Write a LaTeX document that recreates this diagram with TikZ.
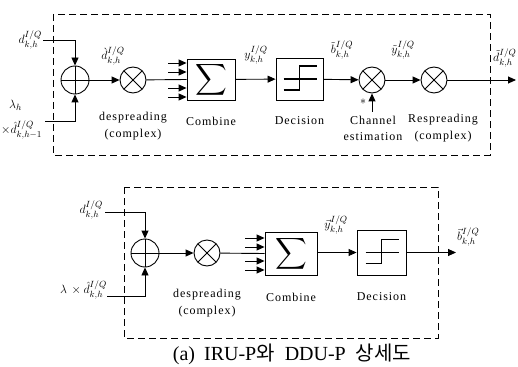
\documentclass[tikz,border=0pt]{standalone}
\usepackage{fontspec}
\setmainfont{Liberation Serif}
\newfontfamily\krfont{Noto Sans CJK KR}
\newfontfamily\lblfont[LetterSpace=8]{Liberation Serif}
\usetikzlibrary{arrows.meta,calc}
\tikzset{
  sig/.style={line width=0.9pt},
  arr/.style={sig,-{Triangle[length=8pt,width=7pt]}},
  dbox/.style={line width=0.9pt, dash pattern=on 7pt off 4pt},
  mulnode/.style={circle, draw, line width=0.9pt, minimum size=26pt, inner sep=0pt,
    path picture={\draw[line width=0.9pt] (path picture bounding box.north west) -- (path picture bounding box.south east)
      (path picture bounding box.north east) -- (path picture bounding box.south west);}},
  addnode/.style={circle, draw, line width=0.9pt, minimum size=28pt, inner sep=0pt,
    path picture={\draw[line width=0.9pt] (path picture bounding box.north) -- (path picture bounding box.south)
      (path picture bounding box.east) -- (path picture bounding box.west);}},
  sumbox/.style={draw, line width=0.9pt, inner sep=0pt},
  decbox/.style={draw, line width=0.9pt, inner sep=0pt,
    path picture={\draw[line width=1.1pt]
      ($(path picture bounding box.center)+(-16pt,0pt)$) -- ++(33pt,0pt)
      ($(path picture bounding box.center)+(-16pt,-11pt)$) -- ++(16pt,0pt) -- ++(0pt,24pt) -- ++(17pt,0pt);}},
  lbl/.style={font=\lblfont\fontsize{12}{13}\selectfont, inner sep=0pt},
  mlbl/.style={font=\fontsize{13}{13}\selectfont, inner sep=0pt},
}
\begin{document}
\begin{tikzpicture}[x=1pt,y=-1pt]
\useasboundingbox (0,0) rectangle (518,366);
% ---------------- top ----------------
\draw[dbox] (53,14) rectangle (490,155);
\node[addnode] (add1) at (75,80) {};
\node[mulnode] (mul1) at (133,80) {};
\node[sumbox, minimum width=48pt, minimum height=41pt] (sum1) at (211,79.5) {\scalebox{2.2}{$\displaystyle\sum$}};
\node[decbox, minimum width=47pt, minimum height=42pt] (dec1) at (299.5,79) {};
\node[mulnode] (mul2) at (372,80) {};
\node[mulnode] (mul3) at (434,80) {};
\coordinate (din1) at (43,40);
\coordinate (lin1) at (45,121);
\coordinate (ch1) at (372,112);
\coordinate (out1) at (516,80);
\draw[arr] (din1) -| (add1.north);
\draw[arr] (lin1) -| (add1.south);
\draw[arr] (add1) -- (mul1);
\draw[sig] (mul1) -- (sum1.west);
\foreach \yy in {63,72,88,97}{
  \draw[arr] (168,\yy) -- (sum1.west |- 0,\yy);
}
\draw[arr] (sum1) -- (dec1);
\draw[arr] (dec1) -- (mul2);
\draw[arr] (ch1) -- (mul2.south);
\draw[arr] (mul2) -- (mul3);
\draw[arr] (mul3) -- (out1);
\node[mlbl, anchor=east] (ld1) at (42,40) {$d^{I/Q}_{k,h}$};
\node[mlbl, anchor=west] (ll1) at (9,105) {$\lambda_h$};
\node[mlbl, anchor=west] (ll2) at (1,130) {$\times\hat{d}^{I/Q}_{k,h-1}$};
\node[mlbl] (lhat) at (113,56) {$\grave{d}^{I/Q}_{k,h}$};
\node[mlbl] (ly1) at (256,55) {$y^{I/Q}_{k,h}$};
\node[mlbl] (lb1) at (342,50) {$\tilde{b}^{I/Q}_{k,h}$};
\node[mlbl] (lyt) at (403,50) {$\tilde{y}^{I/Q}_{k,h}$};
\node[mlbl, anchor=west] (ldt) at (493,58) {$\tilde{d}^{I/Q}_{k,h}$};
\node[mlbl] (star) at (363,102) {$\ast$};
\node[lbl] (t1) at (133,118) {despreading};
\node[lbl] (t2) at (133,135) {(complex)};
\node[lbl] (t3) at (211,121) {Combine};
\node[lbl] (t4) at (299.5,121) {Decision};
\node[lbl] (t5) at (373,120) {Channel};
\node[lbl] (t6) at (373,137) {estimation};
\node[lbl] (t7) at (443,120) {Respreading};
\node[lbl] (t8) at (443,137) {(complex)};
% ---------------- bottom ----------------
\draw[dbox] (124,187) rectangle (438,338);
\node[addnode] (add2) at (145,253) {};
\node[mulnode] (mul4) at (207,253) {};
\node[sumbox, minimum width=52pt, minimum height=43pt] (sum2) at (291,253.5) {\scalebox{2.2}{$\displaystyle\sum$}};
\node[decbox, minimum width=49pt, minimum height=45pt] (dec2) at (381.5,252.5) {};
\coordinate (din2) at (105,212);
\coordinate (lin2) at (107,296);
\coordinate (out2) at (456,252.5);
\draw[arr] (din2) -| (add2.north);
\draw[arr] (lin2) -| (add2.south);
\draw[arr] (add2) -- (mul4);
\draw[sig] (mul4) -- (sum2.west);
\foreach \yy in {238,247,261,270}{
  \draw[arr] (245,\yy) -- (sum2.west |- 0,\yy);
}
\draw[arr] (sum2.east |- dec2) -- (dec2);
\draw[arr] (dec2) -- (out2);
\node[mlbl, anchor=east] (ld2) at (103,210) {$d^{I/Q}_{k,h}$};
\node[mlbl, anchor=east] (ll3) at (107,290) {$\lambda\,\times\hat{d}^{I/Q}_{k,h}$};
\node[mlbl] (ly2) at (336,225) {$\vec{y}^{I/Q}_{k,h}$};
\node[mlbl, anchor=west] (lb2) at (457,237) {$\vec{b}^{I/Q}_{k,h}$};
\node[lbl] (t9) at (207,295) {despreading};
\node[lbl] (t10) at (207,312) {(complex)};
\node[lbl] (t11) at (291,297) {Combine};
\node[lbl] (t12) at (381.5,297) {Decision};
\node[inner sep=0pt, font=\fontsize{20}{20}\selectfont] (cap) at (292,354)
  {(a)\hspace{9pt}IRU-P{\krfont 와}\hspace{10pt}DDU-P\hspace{10pt}{\krfont 상세도}};
\end{tikzpicture}
\end{document}
